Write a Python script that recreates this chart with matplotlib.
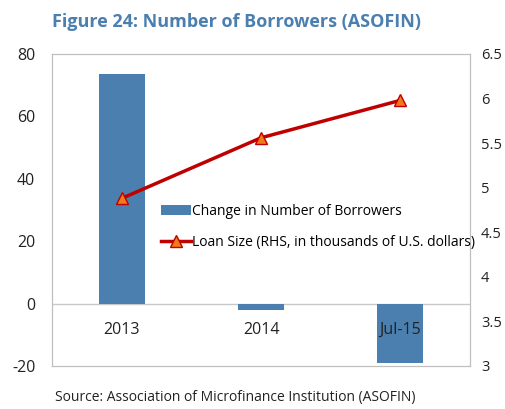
import matplotlib.pyplot as plt
import numpy as np

plt.rcParams['font.family'] = ['Open Sans', 'DejaVu Sans']
plt.rcParams['axes.unicode_minus'] = False

categories = ['2013', '2014', 'Jul-15']
borrowers_change = [73.5, -2.0, -19.0]
loan_size = [4.88, 5.56, 5.98]

fig = plt.figure(figsize=(5.05, 4.09), dpi=100)
ax = fig.add_axes([52 / 505, 1 - 366 / 409, 418 / 505, 312 / 409])
ax2 = ax.twinx()

x = np.arange(len(categories))
bars = ax.bar(x, borrowers_change, width=0.33, color='#4a7fb0',
              label='Change in Number of Borrowers', zorder=2)
ax.axhline(0, color='#c8c8c8', lw=1, zorder=1)
ax.set_xlim(-0.5, 2.5)
ax.set_ylim(-20, 80)
ax.set_yticks([-20, 0, 20, 40, 60, 80])
ax.set_xticks([])
for i, c in enumerate(categories):
    ax.text(i, -8.5, c, ha='center', va='center', fontsize=11.5, color='#222222', zorder=3)

line, = ax2.plot(x, loan_size, color='#c00000', lw=2.5, marker='^', markersize=8,
                 markerfacecolor='#f07a1a', markeredgecolor='#c00000', markeredgewidth=1,
                 label='Loan Size (RHS, in thousands of U.S. dollars)')
ax2.set_ylim(3, 6.5)
ax2.set_yticks([3, 3.5, 4, 4.5, 5, 5.5, 6, 6.5])
ax2.set_yticklabels(['3', '3.5', '4', '4.5', '5', '5.5', '6', '6.5'])

for a in (ax, ax2):
    a.tick_params(length=0, labelsize=10.5, colors='#222222')
    for s in a.spines.values():
        s.set_color('#bfbfbf')
ax.tick_params(axis='y', pad=12, labelsize=11.5)
ax2.tick_params(axis='y', pad=8)

fig.legend(handles=[bars, line], loc='upper left', bbox_to_anchor=(155 / 505, 1 - 198 / 409),
           frameon=False, fontsize=10, handlelength=2.2, handletextpad=0.1,
           labelspacing=1.2, borderaxespad=0)

fig.text(52 / 505, 1 - 22 / 409, 'Figure 24: Number of Borrowers (ASOFIN)', fontsize=13,
         fontweight='bold', color='#4a7fb0', va='center', ha='left')
fig.text(55 / 505, 1 - 398 / 409, 'Source: Association of Microfinance Institution (ASOFIN)',
         fontsize=10, color='#222222', va='center', ha='left')

fig.savefig('out.png', dpi=100)
